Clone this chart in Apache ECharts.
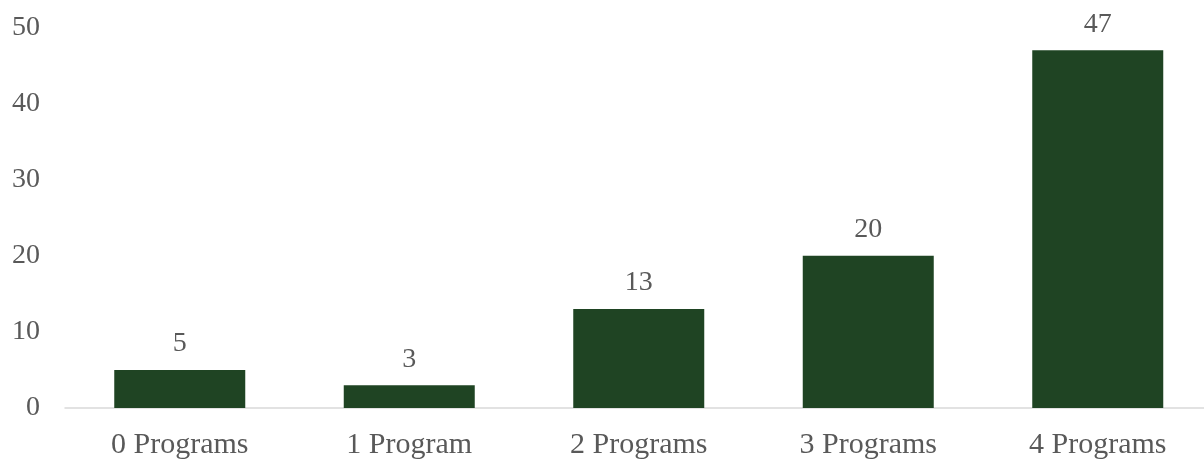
<!DOCTYPE html>
<html>
<head>
<meta charset="utf-8">
<script src="https://cdn.jsdelivr.net/npm/echarts@6/dist/echarts.min.js"></script>
<style>
  html, body { margin: 0; padding: 0; background: #ffffff; overflow: hidden; }
  /* the last category band runs slightly past the right edge of the window */
  #chart { width: 1213px; height: 460px; }
</style>
</head>
<body>
<div id="chart"></div>
<script>
// Number of programs completed
const categories = ['0 Programs', '1 Program', '2 Programs', '3 Programs', '4 Programs'];
const counts = [5, 3, 13, 20, 47];
const yTicks = { min: 0, max: 50, interval: 10 };

const textColor = '#595959';
const fontFamily = '"Liberation Serif", "Times New Roman", serif';

const chart = echarts.init(document.getElementById('chart'), null, { renderer: 'canvas' });
chart.setOption({
  animation: false,
  backgroundColor: '#ffffff',
  grid: { left: 65, top: 27.5, right: 0.5, bottom: 51.5, containLabel: false },
  xAxis: {
    type: 'category',
    data: categories,
    axisLine: { show: true, lineStyle: { color: '#d9d9d9', width: 1.5 } },
    axisTick: { show: false },
    axisLabel: { color: textColor, fontFamily: fontFamily, fontSize: 30, margin: 22 },
    splitLine: { show: false }
  },
  yAxis: {
    type: 'value',
    min: yTicks.min,
    max: yTicks.max,
    interval: yTicks.interval,
    axisLine: { show: false },
    axisTick: { show: false },
    splitLine: { show: false },
    axisLabel: { color: textColor, fontFamily: fontFamily, fontSize: 28, margin: 25 }
  },
  series: [{
    type: 'bar',
    data: counts,
    barWidth: 131,
    itemStyle: { color: '#1f4423' },
    label: {
      show: true,
      position: 'top',
      distance: 12,
      color: textColor,
      fontFamily: fontFamily,
      fontSize: 28
    }
  }]
});
</script>
</body>
</html>
